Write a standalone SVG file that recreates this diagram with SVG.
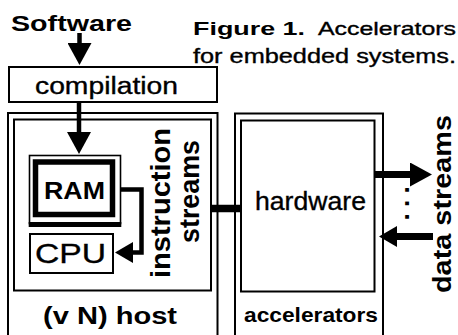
<svg xmlns="http://www.w3.org/2000/svg" width="458" height="335" viewBox="0 0 458 335">
  <style>
    .box { fill: none; stroke: #000; stroke-width: 2; }
    .thin { fill: none; stroke: #000; stroke-width: 1.6; }
    .t { font-family: "Liberation Sans", Arial, sans-serif; fill: #000; }
    .r { stroke: #000; stroke-width: 0.35; }
    .b { font-weight: bold; }
    .wire { fill: none; stroke: #000; stroke-linejoin: miter; stroke-linecap: butt; }
  </style>
  <defs>
    <marker id="ah" markerUnits="userSpaceOnUse" markerWidth="22" markerHeight="24" viewBox="0 0 22 24" refX="1" refY="12" orient="auto">
      <path d="M0,0 L22,12 L0,24 Z" fill="#000"/>
    </marker>
    <marker id="ah-s" markerUnits="userSpaceOnUse" markerWidth="18" markerHeight="21" viewBox="0 0 18 21" refX="1" refY="10.5" orient="auto">
      <path d="M0,0 L18,10.5 L0,21 Z" fill="#000"/>
    </marker>
  </defs>
  <rect width="458" height="335" fill="#fff"/>

  <!-- caption -->
  <g id="caption">
    <text class="t b" x="193" y="35" font-size="18.5" textLength="112" lengthAdjust="spacingAndGlyphs">Figure 1.</text>
    <text class="t r" x="318" y="35" font-size="18.5" textLength="138" lengthAdjust="spacingAndGlyphs">Accelerators</text>
    <text class="t r" x="193" y="63" font-size="19.5" textLength="263" lengthAdjust="spacingAndGlyphs">for embedded systems.</text>
  </g>

  <g id="software">
    <text class="t b" x="11" y="31" font-size="22" textLength="121" lengthAdjust="spacingAndGlyphs">Software</text>
  </g>

  <g id="compilation">
    <rect class="box" x="9" y="67" width="208" height="35"/>
    <text class="t r" x="35" y="94" font-size="23.5" textLength="143" lengthAdjust="spacingAndGlyphs">compilation</text>
  </g>

  <g id="host">
    <rect class="box" x="8" y="113" width="209.5" height="240"/>
    <rect class="box" x="14" y="119.5" width="197" height="171"/>
    <text class="t b" x="43" y="324" font-size="23" textLength="134" lengthAdjust="spacingAndGlyphs">(v N) host</text>
  </g>

  <g id="ram">
    <rect class="thin" x="29.5" y="155.5" width="91" height="68"/>
    <rect fill="none" stroke="#000" stroke-width="5.5" x="35.5" y="162" width="77" height="52.5"/>
    <line x1="28.7" y1="224.5" x2="121.3" y2="224.5" stroke="#000" stroke-width="5"/>
    <text class="t b" x="44" y="199" font-size="23" textLength="61" lengthAdjust="spacingAndGlyphs">RAM</text>
  </g>

  <g id="cpu">
    <rect class="box" x="30" y="234" width="83" height="39"/>
    <text class="t r" x="35" y="263" font-size="28" textLength="71" lengthAdjust="spacingAndGlyphs">CPU</text>
  </g>

  <g id="instruction-streams">
    <text class="t b" font-size="28" transform="translate(170,278) rotate(-90)" textLength="150" lengthAdjust="spacingAndGlyphs">instruction</text>
    <text class="t b" font-size="28" transform="translate(199,243) rotate(-90)" textLength="103" lengthAdjust="spacingAndGlyphs">streams</text>
  </g>

  <g id="accelerators">
    <rect class="box" x="235" y="113.5" width="148" height="240"/>
    <rect class="box" x="241" y="120.5" width="133.5" height="171"/>
    <text class="t r" x="255" y="210" font-size="25" textLength="111" lengthAdjust="spacingAndGlyphs">hardware</text>
    <text class="t b" x="244" y="322" font-size="21" textLength="134" lengthAdjust="spacingAndGlyphs">accelerators</text>
  </g>

  <g id="data-streams">
    <text class="t b" font-size="26" letter-spacing="6.3" transform="translate(409,220.6) rotate(-90)">...</text>
    <text class="t b" font-size="25" transform="translate(451,293) rotate(-90)" textLength="178" lengthAdjust="spacingAndGlyphs">data streams</text>
  </g>

  <!-- connectors -->
  <g id="connectors">
    <path class="wire" stroke="#000" stroke-width="4.5" d="M79.5,33 V44" marker-end="url(#ah)"/>
    <path class="wire" stroke="#000" stroke-width="4.5" d="M79,102 V133" marker-end="url(#ah)"/>
    <path class="wire" stroke="#000" stroke-width="4.5" d="M121,189.5 H141.5 V252.5 H132" marker-end="url(#ah-s)"/>
    <path class="wire" stroke="#000" stroke-width="7.5" d="M211,208.5 H241"/>
    <path class="wire" stroke="#000" stroke-width="7" d="M375,174.5 H411" marker-end="url(#ah)"/>
    <path class="wire" stroke="#000" stroke-width="7" d="M433,236.5 H396" marker-end="url(#ah-s)"/>
  </g>
</svg>
